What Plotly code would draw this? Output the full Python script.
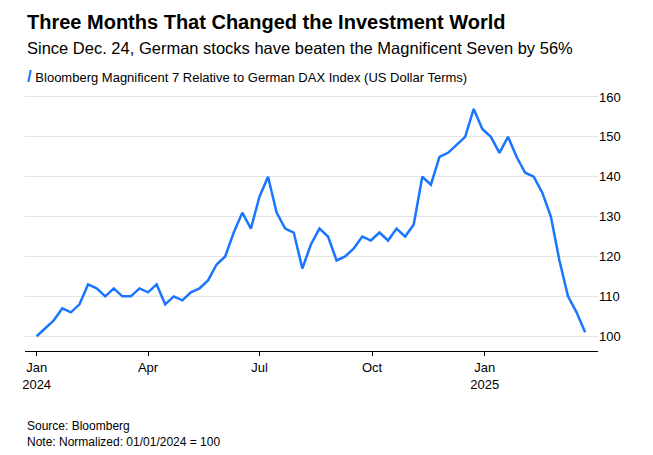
import plotly.graph_objects as go

dates = ["2024-01-01","2024-01-08","2024-01-15","2024-01-22","2024-01-29","2024-02-05","2024-02-12","2024-02-19","2024-02-26",
"2024-03-04","2024-03-11","2024-03-18","2024-03-25","2024-04-01","2024-04-08","2024-04-15","2024-04-22","2024-04-29",
"2024-05-06","2024-05-13","2024-05-20","2024-05-27","2024-06-03","2024-06-10","2024-06-17","2024-06-24","2024-07-01",
"2024-07-08","2024-07-15","2024-07-22","2024-07-29","2024-08-05","2024-08-12","2024-08-19","2024-08-26","2024-09-02",
"2024-09-09","2024-09-16","2024-09-23","2024-09-30","2024-10-07","2024-10-14","2024-10-21","2024-10-28","2024-11-04",
"2024-11-11","2024-11-18","2024-11-25","2024-12-02","2024-12-09","2024-12-16","2024-12-23","2024-12-30","2025-01-06",
"2025-01-13","2025-01-20","2025-01-27","2025-02-03","2025-02-10","2025-02-17","2025-02-24","2025-03-03","2025-03-10",
"2025-03-17","2025-03-24"]
values = [100,102,104,107,106,108,113,112,110,112,110,110,112,111,113,108,110,109,111,112,114,118,120,126,131,127,135,
140,131,127,126,117,123,127,125,119,120,122,125,124,126,124,127,125,128,140,138,145,146,148,150,157,152,150,146,150,
145,141,140,136,130,119,110,106,101]
tick_dates = ["2024-01-01","2024-04-01","2024-07-01","2024-10-01","2025-01-01"]
tick_text = ["Jan<br>2024","Apr","Jul","Oct","Jan<br>2025"]

fig = go.Figure(go.Scatter(x=dates, y=values, mode="lines", line=dict(color="#1a75ff", width=2.5), hoverinfo="skip"))
fig.update_layout(
    width=653, height=455, margin=dict(l=17, r=63, t=85, b=112),
    paper_bgcolor="white", plot_bgcolor="white", showlegend=False,
    font=dict(family="Liberation Sans, Arial", color="#000", size=13),
    xaxis=dict(range=["2023-12-22 12:00","2025-04-03 12:00"], tickvals=tick_dates, ticktext=tick_text,
               showgrid=False, showline=True, linecolor="#000", linewidth=1, ticks="outside", ticklen=4, tickcolor="#000"),
    yaxis=dict(side="right", range=[96.3, 161], tickvals=[100,110,120,130,140,150,160],
               gridcolor="#e3e3e3", zeroline=False, ticks=""),
    annotations=[
        dict(text="<b>Three Months That Changed the Investment World</b>", xref="paper", yref="paper", x=0, y=1, yshift=84,
             showarrow=False, xanchor="left", yanchor="top", font=dict(size=20)),
        dict(text="Since Dec. 24, German stocks have beaten the Magnificent Seven by 56%", xref="paper", yref="paper",
             x=0, y=1, yshift=56, showarrow=False, xanchor="left", yanchor="top", font=dict(size=16.5)),
        dict(text="<b><span style='color:#1a75ff;font-size:17px'>/</span></b> Bloomberg Magnificent 7 Relative to German DAX Index (US Dollar Terms)",
             xref="paper", yref="paper", x=0, y=1, yshift=28, showarrow=False, xanchor="left", yanchor="top", font=dict(size=13)),
        dict(text="Source: Bloomberg<br>Note: Normalized: 01/01/2024 = 100", xref="paper", yref="paper", x=0, y=0, yshift=-66,
             showarrow=False, xanchor="left", yanchor="top", align="left", font=dict(size=12)),
    ],
)
fig.write_html("out.html")
